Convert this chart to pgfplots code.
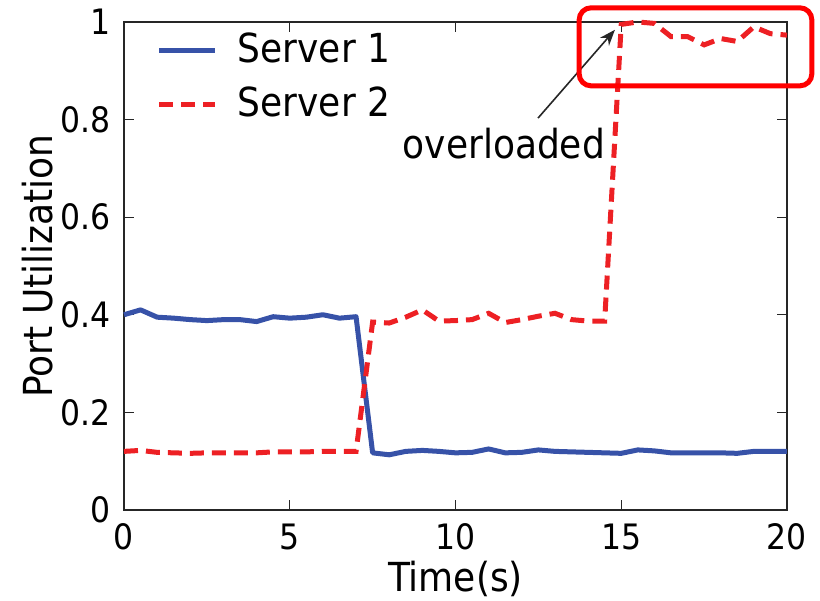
\documentclass[border=0pt]{standalone}
\usepackage{fontspec}
\setmainfont{DejaVu Sans Condensed}
\usepackage{pgfplots}
\pgfplotsset{compat=1.18}
\usetikzlibrary{arrows.meta}
\definecolor{srvblue}{RGB}{55,82,168}
\definecolor{srvred}{RGB}{237,32,36}
\begin{document}
\fontsize{20}{24}\selectfont
\begin{tikzpicture}
\begin{axis}[
  scale only axis, width=331.5pt, height=244pt,
  xmin=0, xmax=20, ymin=0, ymax=1,
  xtick={0,5,10,15,20}, ytick={0,0.2,0.4,0.6,0.8,1},
  tick align=inside, major tick length=5pt,
  axis line style={black!85, line width=0.6pt},
  every tick/.style={black!85, line width=0.6pt},
  /pgf/number format/assume math mode=true,
  ticklabel style={font=\fontsize{17.5}{21}\selectfont},
  label style={font=\fontsize{20}{24}\selectfont},
  xlabel={Time(s)}, ylabel={Port Utilization},
  xlabel style={at={(axis description cs:0.5,-0.168)}, anchor=base},
  ylabel style={at={(axis description cs:-0.13,0.5)}, anchor=center},
  clip=false,
  legend style={draw=none, fill=none, at={(rel axis cs:0.04,0.995)}, anchor=north west,
    font=\fontsize{20}{24}\selectfont, row sep=5pt, cells={anchor=west}},
  legend image code/.code={\draw[#1] (0pt,0pt) -- (28pt,0pt); \path (36pt,0pt);},
]
\addplot[srvblue, line width=2.5pt, line join=round] coordinates {
(0,0.40) (0.5,0.41) (1,0.395) (1.5,0.393) (2,0.39) (2.5,0.388) (3,0.39) (3.5,0.39)
(4,0.386) (4.5,0.396) (5,0.393) (5.5,0.395) (6,0.40) (6.5,0.393) (7,0.396)
(7.5,0.117) (8,0.113) (8.5,0.12) (9,0.122) (9.5,0.12) (10,0.117) (10.5,0.118)
(11,0.125) (11.5,0.117) (12,0.118) (12.5,0.123) (13,0.12) (13.5,0.119) (14,0.118)
(14.5,0.117) (15,0.116) (15.5,0.123) (16,0.121) (16.5,0.117) (17,0.117) (17.5,0.117)
(18,0.117) (18.5,0.116) (19,0.12) (19.5,0.12) (20,0.12)};
\addlegendentry{Server 1}
\addplot[srvred, line width=2.5pt, dash pattern=on 7pt off 4pt] coordinates {
(0,0.12) (0.5,0.122) (1,0.118) (1.5,0.117) (2,0.116) (2.5,0.117) (3,0.117) (3.5,0.117)
(4,0.117) (4.5,0.119) (5,0.119) (5.5,0.119) (6,0.12) (6.5,0.12) (7,0.12)
(7.5,0.385) (8,0.383) (8.5,0.395) (9,0.41) (9.5,0.387) (10,0.388) (10.5,0.39)
(11,0.403) (11.5,0.384) (12,0.39) (12.5,0.397) (13,0.403) (13.5,0.39) (14,0.387)
(14.5,0.387) (15,0.995) (15.5,1.0) (16,0.997) (16.5,0.97) (17,0.97) (17.5,0.953)
(18,0.966) (18.5,0.96) (19,0.99) (19.5,0.976) (20,0.973)};
\addlegendentry{Server 2}
\draw[-{Stealth[length=8pt,width=6pt]}, black!85, line width=0.8pt] (axis cs:12.49,0.803) -- (axis cs:14.81,0.984);
\node[font=\fontsize{20}{24}\selectfont, anchor=base] at (axis cs:11.46,0.721) {overloaded};
\draw[red, line width=2.5pt, rounded corners=6pt] (axis cs:13.73,1.029) rectangle (axis cs:20.75,0.869);
\coordinate (bl) at (axis cs:-3.741,-0.1865);
\coordinate (tr) at (axis cs:20.996,1.045);
\end{axis}
\pgfresetboundingbox
\path[use as bounding box] (bl) rectangle (tr);
\end{tikzpicture}
\end{document}
